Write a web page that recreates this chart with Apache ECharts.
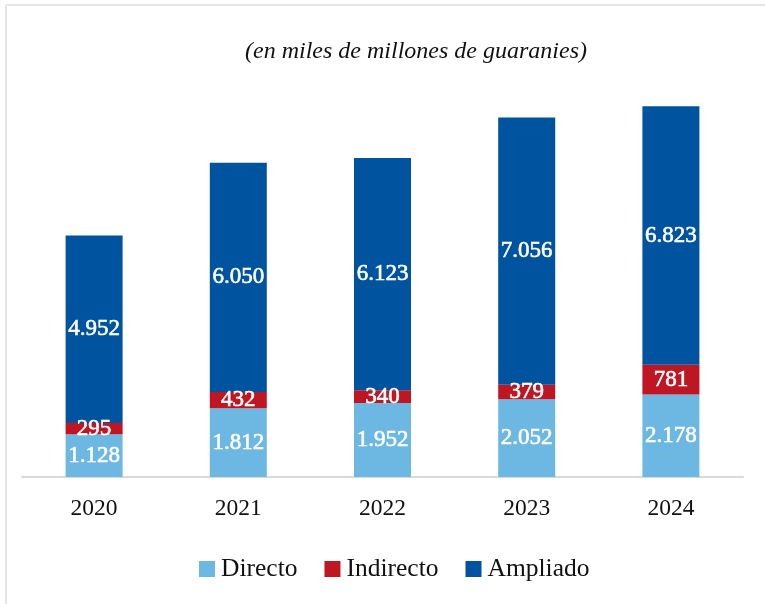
<!DOCTYPE html>
<html><head><meta charset="utf-8">
<script src="https://cdn.jsdelivr.net/npm/echarts@6/dist/echarts.min.js"></script>
<style>html,body{margin:0;padding:0;background:#fff}#c{width:765px;height:604px}</style>
</head><body><div id="c"></div>
<script>
const categories = ['2020','2021','2022','2023','2024'];
const directo = [1128,1812,1952,2052,2178];
const indirecto = [295,432,340,379,781];
const ampliado = [4952,6050,6123,7056,6823];
const seriesNames = ['Directo','Indirecto','Ampliado'];
const titleText = '(en miles de millones de guaranies)';

const FONT = 'Liberation Serif';
const fmt = v => v.toLocaleString('de-DE');
const chart = echarts.init(document.getElementById('c'));
const label = {show:true, position:'inside', color:'#fff', fontFamily:FONT, fontSize:23,
  textBorderColor:'#fff', textBorderWidth:0.6,
  formatter: p => fmt(p.value)};
function mk(name, data, color){
  return {name, type:'bar', stack:'t', data, barWidth:57, itemStyle:{color}, label, emphasis:{disabled:true}};
}
chart.setOption({
  animation:false,
  title:{text:titleText, left:411, textAlign:'center', top:35,
    textStyle:{fontFamily:FONT, fontStyle:'italic', fontWeight:'normal', fontSize:24, color:'#111'}},
  graphic:[
    {type:'line', shape:{x1:6,y1:5,x2:765,y2:5}, style:{stroke:'#e6e6e6', lineWidth:2}},
    {type:'line', shape:{x1:6,y1:5,x2:6,y2:604}, style:{stroke:'#e6e6e6', lineWidth:2}}
  ],
  legend:{bottom:17, left:194, itemWidth:16, itemHeight:16, itemGap:27,
    icon:'rect',
    textStyle:{fontFamily:FONT, fontSize:25.5, color:'#111', padding:[0,0,0,1]},
    data:seriesNames},
  grid:{left:22, right:22, top:98, bottom:127},
  xAxis:{type:'category', data:categories,
    axisLine:{lineStyle:{color:'#d9d9d9', width:2}},
    axisTick:{show:false},
    axisLabel:{fontFamily:FONT, fontSize:23.5, color:'#111', margin:20}},
  yAxis:{type:'value', min:0, max:10000, show:false, splitLine:{show:false}},
  series:[
    mk(seriesNames[0], directo, '#6cb8e3'),
    mk(seriesNames[1], indirecto, '#be1622'),
    mk(seriesNames[2], ampliado, '#00539f')
  ]
});
</script></body></html>
